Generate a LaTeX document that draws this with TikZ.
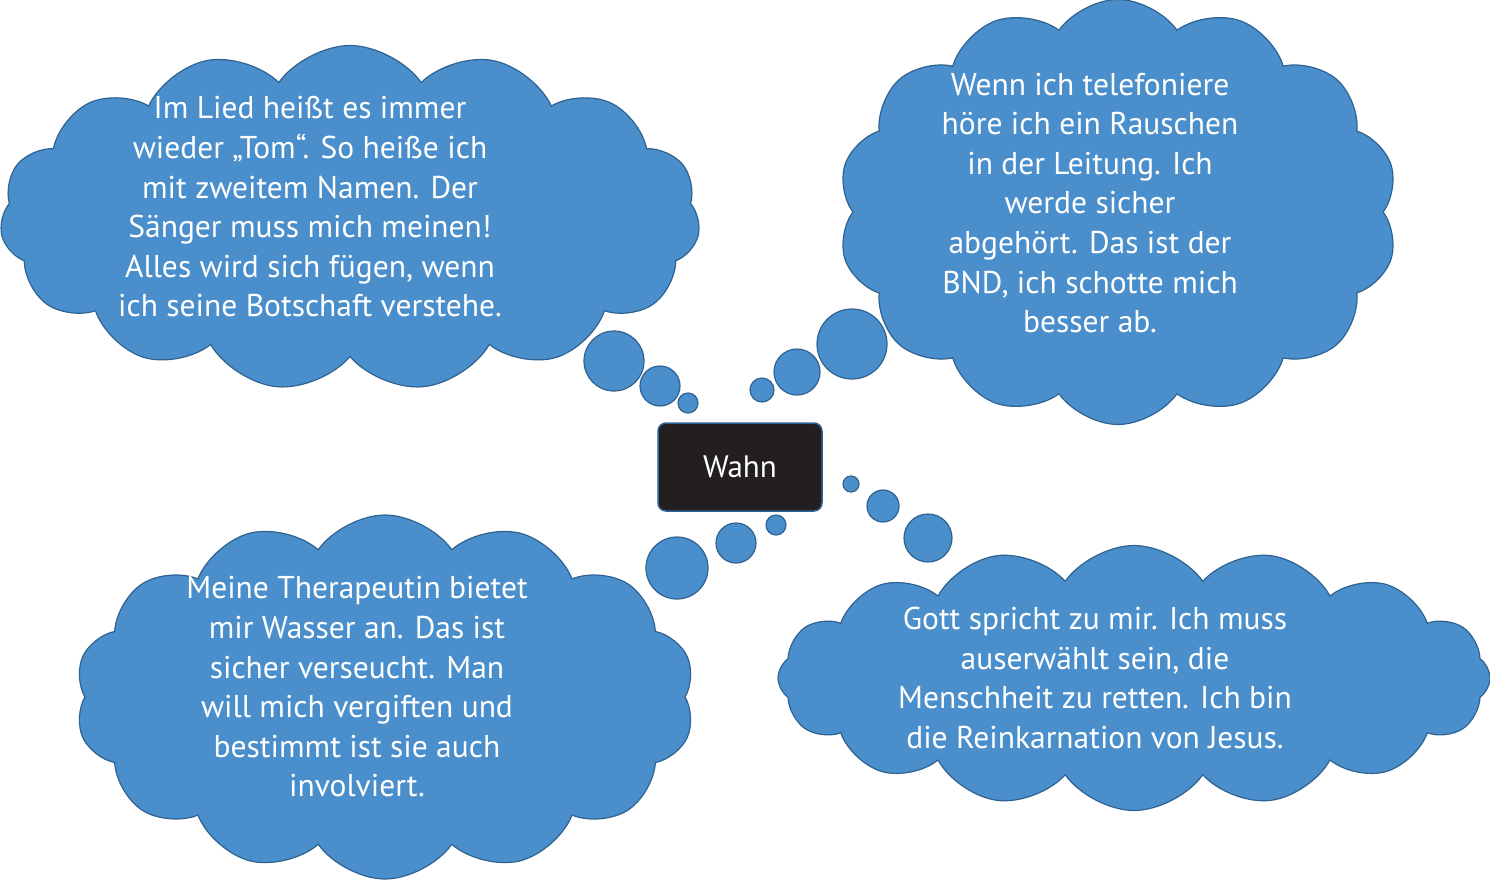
\documentclass[tikz,border=0pt]{standalone}
\usepackage{fontspec}
\setmainfont{PT Sans}
\usetikzlibrary{shapes.symbols}
\definecolor{cfill}{HTML}{4A8FCB}
\definecolor{cline}{HTML}{2F6290}
\definecolor{boxfill}{HTML}{231F20}
\tikzset{
  wolke/.style={cloud, cloud puffs=#1, cloud puff arc=110, cloud ignores aspect, draw=cline, line width=1.2pt, fill=cfill, inner sep=0pt},
  blase/.style={circle, draw=cline, line width=1.2pt, fill=cfill, inner sep=0pt, minimum size=#1},
  txt/.style={text=white, align=center, font=\fontsize{31.5}{39.6}\selectfont},
}
\begin{document}
\begin{tikzpicture}[x=1pt,y=-1pt]
\useasboundingbox (0,0) rectangle (1490,879);
\node[wolke=15, minimum width=700, minimum height=345] (c1) at (350,218) {};
\node[wolke=14, minimum width=560, minimum height=425] (c2) at (1118,212) {};
\node[wolke=14, minimum width=620, minimum height=364] (c3) at (385,697) {};
\node[wolke=16, minimum width=712, minimum height=265] (c4) at (1134,678) {};
\node[blase=60] (b11) at (614,361) {};
\node[blase=40] (b12) at (660,386) {};
\node[blase=20] (b13) at (688,403) {};
\node[blase=70] (b21) at (852,344) {};
\node[blase=46] (b22) at (797,372) {};
\node[blase=24] (b23) at (762,390) {};
\node[blase=62] (b31) at (677,568) {};
\node[blase=40] (b32) at (736,543) {};
\node[blase=20] (b33) at (776,525) {};
\node[blase=16] (b41) at (851,484) {};
\node[blase=32] (b42) at (883,506) {};
\node[blase=48] (b43) at (928,538) {};
\node[draw=cline, line width=1.5pt, fill=boxfill, rounded corners=8, minimum width=164, minimum height=88, text=white, font=\fontsize{31}{34}\selectfont] (wahn) at (740,467) {Wahn};
\node[txt] (t1) at (310,207) {Im Lied heißt es immer\\wieder „Tom“. So heiße ich\\mit zweitem Namen. Der\\Sänger muss mich meinen!\\Alles wird sich fügen, wenn\\ich seine Botschaft verstehe.};
\node[txt] (t2) at (1090,203) {Wenn ich telefoniere\\höre ich ein Rauschen\\in der Leitung. Ich\\werde sicher\\abgehört. Das ist der\\BND, ich schotte mich\\besser ab.};
\node[txt] (t3) at (357,687) {Meine Therapeutin bietet\\mir Wasser an. Das ist\\sicher verseucht. Man\\will mich vergiften und\\bestimmt ist sie auch\\involviert.};
\node[txt] (t4) at (1095,678) {Gott spricht zu mir. Ich muss\\auserwählt sein, die\\Menschheit zu retten. Ich bin\\die Reinkarnation von Jesus.};
\end{tikzpicture}
\end{document}
